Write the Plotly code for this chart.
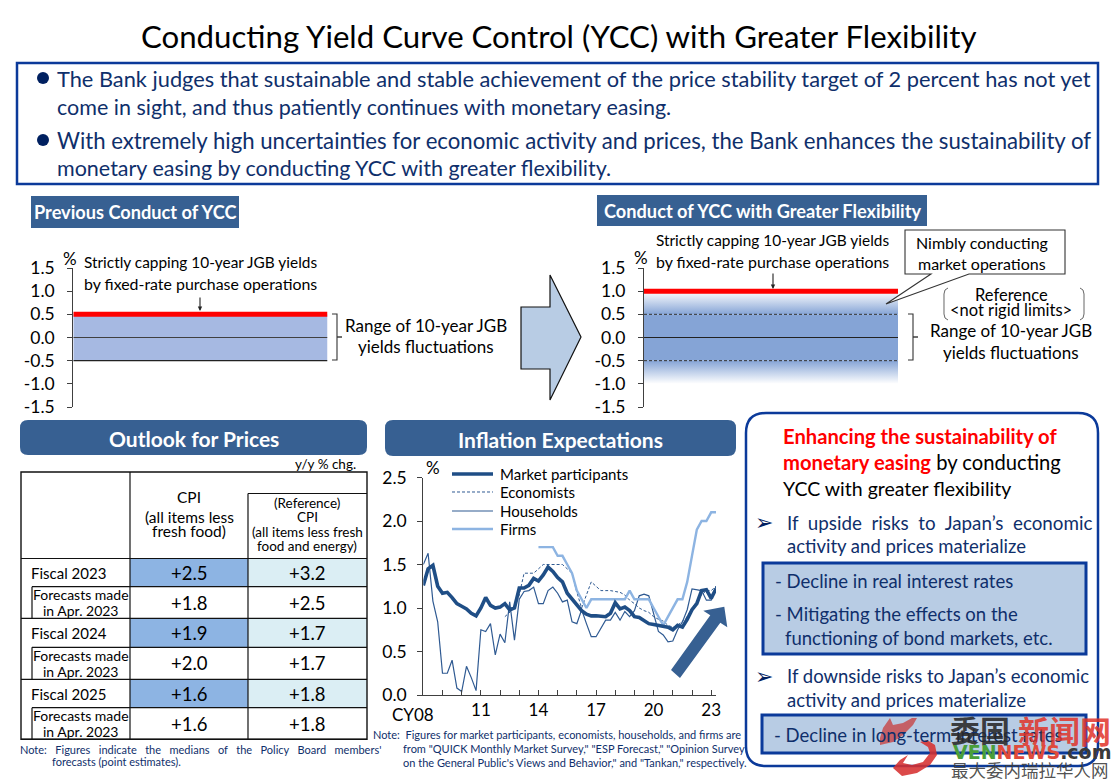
"""BOJ slide: Conducting Yield Curve Control with Greater Flexibility."""
import plotly.graph_objects as go

W, H = 1117, 784
FONT = "Lato"

C = {
    "navy": "#0f2f6b", "box": "#0b3a9a", "pill": "#376092", "soft": "#b8cce4",
    "red": "#ff0000", "band": "#a6b9e2", "band2": "#85a4d6", "axis": "#404040",
    "cell": "#8db4e3", "cell2": "#dbeef4", "market": "#1f4e86",
    "thin": "#2f5a92", "firms": "#8db4e2", "grey": "#666666",
}

# ---- data
yield_ticks = [1.5, 1.0, 0.5, 0.0, -0.5, -1.0, -1.5]
yield_labels = ["1.5", "1.0", "0.5", "0.0", "-0.5", "-1.0", "-1.5"]
band_edge = [0, 1]
range_upper = 0.5
range_lower = -0.5
cap_prev = 0.5
cap_new = 1.0
fade_lower = -1.0

exp_ticks = [0.0, 0.5, 1.0, 1.5, 2.0, 2.5]
exp_labels = ["0.0", "0.5", "1.0", "1.5", "2.0", "2.5"]
year_ticks = list(range(2008, 2024))
year_labels = ["", "", "", "11", "", "", "14", "", "", "17", "", "", "20", "", "", "23"]

quarters = [2008 + q / 4 for q in range(62)]
market = [1.26, 1.45, 1.49, 1.25, 1.17, 1.18, 1.12, 1.05, 1.02, 0.99, 0.94, 0.91,
          1.00, 1.12, 1.03, 1.00, 1.01, 1.05, 0.98, 1.00, 1.23, 1.23, 1.26, 1.34,
          1.31, 1.38, 1.47, 1.42, 1.35, 1.30, 1.17, 1.10, 1.03, 0.97, 0.93, 0.91,
          0.91, 0.90, 0.90, 0.94, 1.06, 0.99, 1.01, 0.97, 0.90, 0.89, 0.86, 0.82,
          0.81, 0.80, 0.79, 0.78, 0.75, 0.80, 0.78, 0.87, 0.98, 1.05, 1.20, 1.21,
          1.11, 1.22]
economists = [None] * 17 + [
    0.90, 0.95, 1.00, 1.15, 1.40, 1.40, 1.40, 1.45, 1.50, 1.50, 1.50, 1.50, 1.50,
    1.45, 1.40, 1.18, 1.00, 1.15, 1.30, 1.25, 1.20, 1.20, 1.20, 1.19, 1.18, 1.15,
    1.09, 1.05, 1.00, 0.97, 0.95, 0.90, 0.87, 0.85, 0.80, 0.78, 0.80, 0.85, 0.90,
    1.00, 1.08, 1.15, 1.20, 1.20, 1.25]
households = [1.50, 1.63, 1.08, 0.84, 0.25, 0.25, 0.40, 0.08, 0.04, 0.33, 0.20, 0.05,
              0.75, 0.73, 0.82, 0.46, 0.70, 0.60, 1.07, 0.63, 1.10, 1.19, 1.20, 1.24,
              1.05, 1.05, 1.20, 1.24, 1.17, 1.07, 1.09, 0.84, 0.82, 0.98, 0.82, 0.67,
              0.67, 0.77, 0.86, 0.86, 0.95, 0.86, 0.96, 0.90, 0.97, 1.14, 1.16, 1.14,
              0.95, 0.73, 0.69, 0.61, 0.62, 0.75, 0.84, 0.98, 1.22, 1.21, 1.20, 1.09,
              1.09, 1.25]
firms = [None] * 24 + [
    1.7, 1.7, 1.7, 1.7, 1.6, 1.6, 1.5, 1.4, 1.2, 1.1, 1.0, 1.1, 1.1, 1.1, 1.1, 1.1,
    1.1, 1.1, 1.1, 1.2, 1.1, 1.1, 1.1, 1.1, 1.0, 0.9, 0.8, 0.9, 1.0, 1.1, 1.1, 1.3,
    1.6, 1.9, 2.0, 2.0, 2.1, 2.1]

fiscal_labels = ["Fiscal 2023", "Fiscal 2024", "Fiscal 2025"]
forecast_lines = ["Forecasts made", "in Apr. 2023"]
cpi = [2.5, 1.8, 1.9, 2.0, 1.6, 1.6]
cpi_core = [3.2, 2.5, 1.7, 1.7, 1.8, 1.8]

fig = go.Figure()
shapes, notes = [], []


def fx(x):
    return x / W


def fy(y):
    return 1 - y / H


def text(x, y, s, size=18, color="black", anchor="left", family=FONT):
    notes.append(dict(x=fx(x), y=fy(y), xref="paper", yref="paper", text=s,
                      showarrow=False, xanchor=anchor, yanchor="middle", align=anchor,
                      font=dict(family=family, size=size, color=color)))


def rect(x0, y0, x1, y1, fill=None, line=None, width=1, layer="above"):
    shapes.append(dict(type="rect", xref="paper", yref="paper", layer=layer,
                       x0=fx(x0), x1=fx(x1), y0=fy(y0), y1=fy(y1),
                       fillcolor=fill or "rgba(0,0,0,0)",
                       line=dict(color=line or "rgba(0,0,0,0)", width=width if line else 0)))


def poly(pts, fill=None, line=None, width=1, close=True, dash="solid"):
    d = "M" + " L".join(f"{fx(x):.5f},{fy(y):.5f}" for x, y in pts) + (" Z" if close else "")
    shapes.append(dict(type="path", xref="paper", yref="paper", path=d,
                       fillcolor=fill or "rgba(0,0,0,0)",
                       line=dict(color=line or "rgba(0,0,0,0)", width=width if line else 0, dash=dash)))


def rounded(x0, y0, x1, y1, r, fill=None, line=None, width=1):
    p = lambda x, y: f"{fx(x):.5f},{fy(y):.5f}"
    d = (f"M{p(x0 + r, y0)} L{p(x1 - r, y0)} Q{p(x1, y0)} {p(x1, y0 + r)} "
         f"L{p(x1, y1 - r)} Q{p(x1, y1)} {p(x1 - r, y1)} L{p(x0 + r, y1)} "
         f"Q{p(x0, y1)} {p(x0, y1 - r)} L{p(x0, y0 + r)} Q{p(x0, y0)} {p(x0 + r, y0)} Z")
    shapes.append(dict(type="path", xref="paper", yref="paper", path=d,
                       fillcolor=fill or "rgba(0,0,0,0)",
                       line=dict(color=line or "rgba(0,0,0,0)", width=width if line else 0)))


def down_arrow(x, y0, y1):
    notes.append(dict(x=fx(x), y=fy(y1), xref="paper", yref="paper", text="", ax=0, ay=y0 - y1,
                      showarrow=True, arrowhead=2, arrowsize=0.8, arrowwidth=1.1, arrowcolor="#222"))


def brace(x, y0, y1, out=5, stub=5):
    poly([(x, y0), (x + out, y0), (x + out, y1), (x, y1)], line="#333", width=1.1, close=False)
    ym = (y0 + y1) / 2
    poly([(x + out, ym), (x + out + stub, ym)], line="#333", width=1.4, close=False)


def level(axis, y, color, width, dash="solid"):
    fig.add_trace(go.Scatter(x=band_edge, y=[y, y], mode="lines", xaxis=f"x{axis}", yaxis=f"y{axis}",
                             line=dict(color=color, width=width, dash=dash),
                             cliponaxis=False, showlegend=False, hoverinfo="skip"))


def band(axis, lo, hi, color=None, gradient=None):
    extra = dict(fillcolor=color) if color else dict(
        fillgradient=dict(type="vertical", colorscale=gradient))
    fig.add_trace(go.Scatter(x=band_edge + band_edge[::-1], y=[hi, hi, lo, lo], mode="none",
                             fill="toself", xaxis=f"x{axis}", yaxis=f"y{axis}",
                             showlegend=False, hoverinfo="skip", **extra))


# ---- title and message box
text(558, 36, "Conducting Yield Curve Control (YCC) with Greater Flexibility", 31.2, anchor="center")
rect(17, 63, 1098, 184, line=C["box"], width=2.5)
for y in (78, 140):
    shapes.append(dict(type="circle", xref="paper", yref="paper", x0=fx(37), x1=fx(49),
                       y0=fy(y + 6), y1=fy(y - 6), fillcolor="#002060", line=dict(width=0)))
text(55, 79, "The Bank judges that sustainable and stable achievement of the price stability target of 2 percent has not yet", 21.8, C["navy"])
text(55, 107, "come in sight, and thus patiently continues with monetary easing.", 21.5, C["navy"])
text(55, 140, "With extremely high uncertainties for economic activity and prices, the Bank enhances the sustainability of", 22.2, C["navy"])
text(55, 168, "monetary easing by conducting YCC with greater flexibility.", 21.5, C["navy"])

# ---- section headers
rect(31, 196, 239, 228, fill=C["pill"])
text(135, 212, "<b>Previous Conduct of YCC</b>", 18.2, "white", "center")
rect(597, 195, 927, 226, fill=C["pill"])
text(762, 211, "<b>Conduct of YCC with Greater Flexibility</b>", 18.2, "white", "center")
rounded(20, 420, 367, 455, 8, fill=C["pill"])
text(194, 438, "<b>Outlook for Prices</b>", 21, "white", "center")
rounded(385, 420, 736, 456, 8, fill=C["pill"])
text(560, 439, "<b>Inflation Expectations</b>", 21, "white", "center")

# ---- previous conduct chart
band(1, range_lower, range_upper, color=C["band"])
level(1, 0, C["axis"], 1)
level(1, range_lower, "#222222", 1.2)
level(1, cap_prev, C["red"], 5)
text(70, 258, "%", 17, anchor="center")
text(200, 262, "Strictly capping 10-year JGB yields", 15.4, anchor="center")
text(200, 283, "by fixed-rate purchase operations", 15.9, anchor="center")
down_arrow(200, 296, 311)
brace(332, 314, 360)
text(426, 325, "Range of 10-year JGB", 17, anchor="center")
text(426, 347, "yields fluctuations", 17, anchor="center")

# block arrow between the charts
poly([(521, 307), (550, 307), (550, 275), (581, 337), (550, 400), (550, 369), (521, 369)],
     fill=C["soft"], line="#111111", width=1.2)

# ---- greater flexibility chart
band(2, range_upper, cap_new, gradient=[[0, C["band2"]], [1, "white"]])
band(2, range_lower, range_upper, color=C["band2"])
band(2, fade_lower, range_lower, gradient=[[0, "white"], [1, C["band2"]]])
level(2, 0, "#222222", 1)
level(2, range_upper, "#333333", 1, "3px,2px")
level(2, range_lower, "#333333", 1, "3px,2px")
level(2, cap_new, C["red"], 5)
text(641, 257, "%", 17, anchor="center")
text(772, 240, "Strictly capping 10-year JGB yields", 15.4, anchor="center")
text(772, 261, "by fixed-rate purchase operations", 15.9, anchor="center")
down_arrow(773, 272, 289)
poly([(905, 230), (1065, 230), (1065, 274), (969, 274), (886, 304), (931, 274), (905, 274)],
     fill="white", line="#333333", width=1.1)
text(982, 242, "Nimbly conducting", 16, anchor="center")
text(982, 263, "market operations", 16, anchor="center")
poly([(948, 288), (945, 290), (944, 294), (944, 314), (945, 318), (948, 320)], line=C["grey"], close=False)
poly([(1080, 288), (1083, 290), (1084, 294), (1084, 314), (1083, 318), (1080, 320)], line=C["grey"], close=False)
text(1011, 295, "Reference", 16.5, anchor="center")
text(1011, 310, "&lt;not rigid limits&gt;", 16.5, anchor="center")
brace(908, 314, 360)
text(1011, 331, "Range of 10-year JGB", 17, anchor="center")
text(1011, 352, "yields fluctuations", 17, anchor="center")

# ---- inflation expectations chart
series = [("Households", households, C["thin"], 1.2, "solid"),
          ("Economists", economists, C["thin"], 1, "3px,2px"),
          ("Firms", firms, C["firms"], 2.4, "solid"),
          ("Market participants", market, C["market"], 3.6, "solid")]
for name, vals, col, lw, dash in series:
    fig.add_trace(go.Scatter(x=quarters, y=vals, name=name, mode="lines", xaxis="x3", yaxis="y3",
                             line=dict(color=col, width=lw, dash=dash), showlegend=False, hoverinfo="skip"))
# key written by hand: the reference rows are tighter than plotly's legend allows
key_rows = [("Market participants", 474), ("Economists", 492), ("Households", 511), ("Firms", 529)]
style = {s[0]: s for s in series}
for name, y in key_rows:
    _, _, col, lw, dash = style[name]
    poly([(452, y), (493, y)], line=col, width=lw, close=False, dash=dash)
    text(498, y, name, 15)
text(433, 467, "%", 17, anchor="center")
text(413, 714, "CY08", 17, anchor="center")
poly([(671, 670), (710.3, 615.3), (703.3, 610.7), (724.3, 606.7), (727.3, 627.3), (720.3, 622.7), (680, 678)],
     fill=C["pill"])

# ---- outlook table
COLS = [21, 130, 248, 367]
ROWS = [558.5, 586.7, 618.3, 647.3, 679.3, 707.7, 739.3]
text(358, 464, "y/y % chg.", 13.5, anchor="right")
rect(COLS[1], ROWS[0], COLS[2], ROWS[1], fill=C["cell"])
rect(COLS[2], ROWS[0], COLS[3], ROWS[1], fill=C["cell2"])
for i in (2, 4):
    rect(COLS[1], ROWS[i], COLS[2], ROWS[i + 1], fill=C["cell"])
    rect(COLS[2], ROWS[i], COLS[3], ROWS[i + 1], fill=C["cell2"])
for i, (a, b) in enumerate(zip(cpi, cpi_core)):
    ym = (ROWS[i] + ROWS[i + 1]) / 2
    text((COLS[1] + COLS[2]) / 2, ym, f"{a:+.1f}", 18.5, anchor="center")
    text((COLS[2] + COLS[3]) / 2, ym, f"{b:+.1f}", 18.5, anchor="center")
    if i % 2:
        text(81, ym - 8, forecast_lines[0], 14, anchor="center")
        text(81, ym + 8, forecast_lines[1], 14, anchor="center")
    else:
        text(29, ym, fiscal_labels[i // 2], 15)
    x0 = 32 if i % 2 == 0 else COLS[0]
    poly([(x0, ROWS[i + 1]), (COLS[3], ROWS[i + 1])], line="#111111", width=1.2, close=False)
    if i % 2:
        poly([(32, ROWS[i]), (32, ROWS[i + 1])], line="#111111", width=1.2, close=False)
rect(COLS[0], 472, COLS[3], ROWS[6], line="#111111", width=1.4)
poly([(COLS[0], ROWS[0]), (COLS[3], ROWS[0])], line="#111111", width=1.2, close=False)
poly([(COLS[1], 472), (COLS[1], ROWS[6])], line="#111111", width=1.2, close=False)
poly([(COLS[2], 493.5), (COLS[2], ROWS[6])], line="#111111", width=1.2, close=False)
poly([(COLS[2], 493.5), (COLS[3], 493.5)], line="#111111", width=1.2, close=False)
text(189, 497, "CPI", 15.5, anchor="center")
text(189, 517, "(all items less", 15.5, anchor="center")
text(189, 531, "fresh food)", 15.5, anchor="center")
text(307, 503, "(Reference)", 13.5, anchor="center")
text(307, 517, "CPI", 13.5, anchor="center")
text(307, 532, "(all items less fresh", 13.5, anchor="center")
text(307, 546, "food and energy)", 13.5, anchor="center")
wide = " &#160;&#160;"
text(18, 749, "Note:" + wide + "Figures" + wide + "indicate" + wide + "the" + wide + "medians" + wide + "of" + wide
     + "the" + wide + "Policy" + wide + "Board" + wide + "members'", 11, C["navy"])
text(50, 761, "forecasts (point estimates).", 11, C["navy"])
text(371, 734, "Note:  Figures for market participants, economists, households, and firms are", 11, C["navy"])
text(401, 748, 'from "QUICK Monthly Market Survey," "ESP Forecast," "Opinion Survey', 11, C["navy"])
text(401, 762, 'on the General Public\'s Views and Behavior," and "Tankan," respectively.', 11, C["navy"])

# ---- right panel
rounded(746, 413, 1098, 766, 20, line=C["box"], width=2.5)
rect(763, 563, 1086, 654, fill=C["soft"], line=C["box"], width=3)
rect(762, 715, 1086, 753, fill=C["soft"], line=C["box"], width=3)
text(781, 436, "<b>Enhancing the sustainability of</b>", 20.2, C["red"])
text(781, 462, "<b>monetary easing</b> <span style='color:black'>by conducting</span>", 20.2, C["red"])
text(781, 488, "YCC with greater flexibility", 19.5)
for y in (522, 676):
    text(764, y, "➢", 22, "#002060", "center", "DejaVu Sans")
text(785, 522, "If upside risks to Japan’s economic".replace(" ", " &#160;"), 18.8, C["navy"])
text(785, 546, "activity and prices materialize", 18.5, C["navy"])
text(773, 581, "- Decline in real interest rates", 18.5, C["navy"])
text(773, 614, "- Mitigating the effects on the", 18.5, C["navy"])
text(783, 638, "functioning of bond markets, etc.", 18.5, C["navy"])
text(785, 676, "If downside risks to Japan’s economic", 18.5, C["navy"])
text(785, 700, "activity and prices materialize", 18.5, C["navy"])
text(772, 735, "- Decline in long-term interest rates", 18.5, C["navy"])

# ---- watermark
CJK = "Noto Sans CJK SC"
poly([(893, 768), (902, 776), (917, 773), (930, 765), (937, 755), (935, 745), (927, 740), (920, 742),
      (928, 747), (930, 753), (923, 762), (912, 765), (903, 763), (908, 755), (900, 760)],
     fill="rgba(214,48,48,0.88)")
poly([(880, 745), (893, 742), (903, 735), (913, 725), (917, 718), (912, 718), (903, 723), (893, 725),
      (890, 718), (883, 728), (880, 738)], fill="rgba(200,60,60,0.75)")
text(980, 729, "<b>委国</b>", 30, "rgba(40,40,40,0.9)", "center", CJK)
text(1064, 729, "<b>新闻网</b>", 31, "rgba(225,50,40,0.85)", "center", CJK)
text(951, 752, "<b><span style='color:#4a9e3a'>VEN</span><span style='color:#e04a3a'>NEWS</span>"
     "<span style='color:#3a3a3a'>.com</span></b>", 19, "#3a3a3a", "left", "DejaVu Sans")
text(1030, 769, "最大委内瑞拉华人网", 17.5, "rgba(60,60,60,0.9)", "center", CJK)

# ---- axes
yaxis_base = dict(showgrid=False, zeroline=False, showline=True, linecolor=C["axis"], linewidth=1.1,
                  ticks="outside", ticklen=5, tickcolor=C["axis"],
                  tickfont=dict(family=FONT, size=17.5, color="black"))
fig.update_layout(
    width=W, height=H, margin=dict(l=0, r=0, t=0, b=0, autoexpand=False),
    paper_bgcolor="white", plot_bgcolor="rgba(0,0,0,0)",
    showlegend=False, shapes=shapes, annotations=notes,
    font=dict(family=FONT, color="black"),
    xaxis=dict(domain=[fx(73.3), fx(327.5)], range=[0, 1], visible=False, anchor="y"),
    yaxis=dict(domain=[fy(407), fy(268)], range=[-1.5, 1.5], tickvals=yield_ticks, ticktext=yield_labels,
               anchor="x", ticklabelstandoff=9, **yaxis_base),
    xaxis2=dict(domain=[fx(644), fx(898)], range=[0, 1], visible=False, anchor="y2"),
    yaxis2=dict(domain=[fy(407), fy(268)], range=[-1.5, 1.5], tickvals=yield_ticks, ticktext=yield_labels,
                anchor="x2", ticklabelstandoff=9, **yaxis_base),
    xaxis3=dict(domain=[fx(423.3), fx(716)], range=[2008, 2023.25], tickvals=year_ticks, ticktext=year_labels,
                showgrid=False, zeroline=False, showline=True, linecolor=C["axis"], linewidth=1.1,
                ticks="inside", ticklen=5, tickcolor=C["axis"], anchor="y3",
                tickfont=dict(family=FONT, size=17, color="black")),
    yaxis3=dict(domain=[fy(695), fy(477.5)], range=[0, 2.5], tickvals=exp_ticks, ticktext=exp_labels,
                anchor="x3", ticklabelstandoff=7, **yaxis_base),
)

fig.write_html("out.html", config={"displayModeBar": False},
               post_script="document.body.style.margin='0';")
